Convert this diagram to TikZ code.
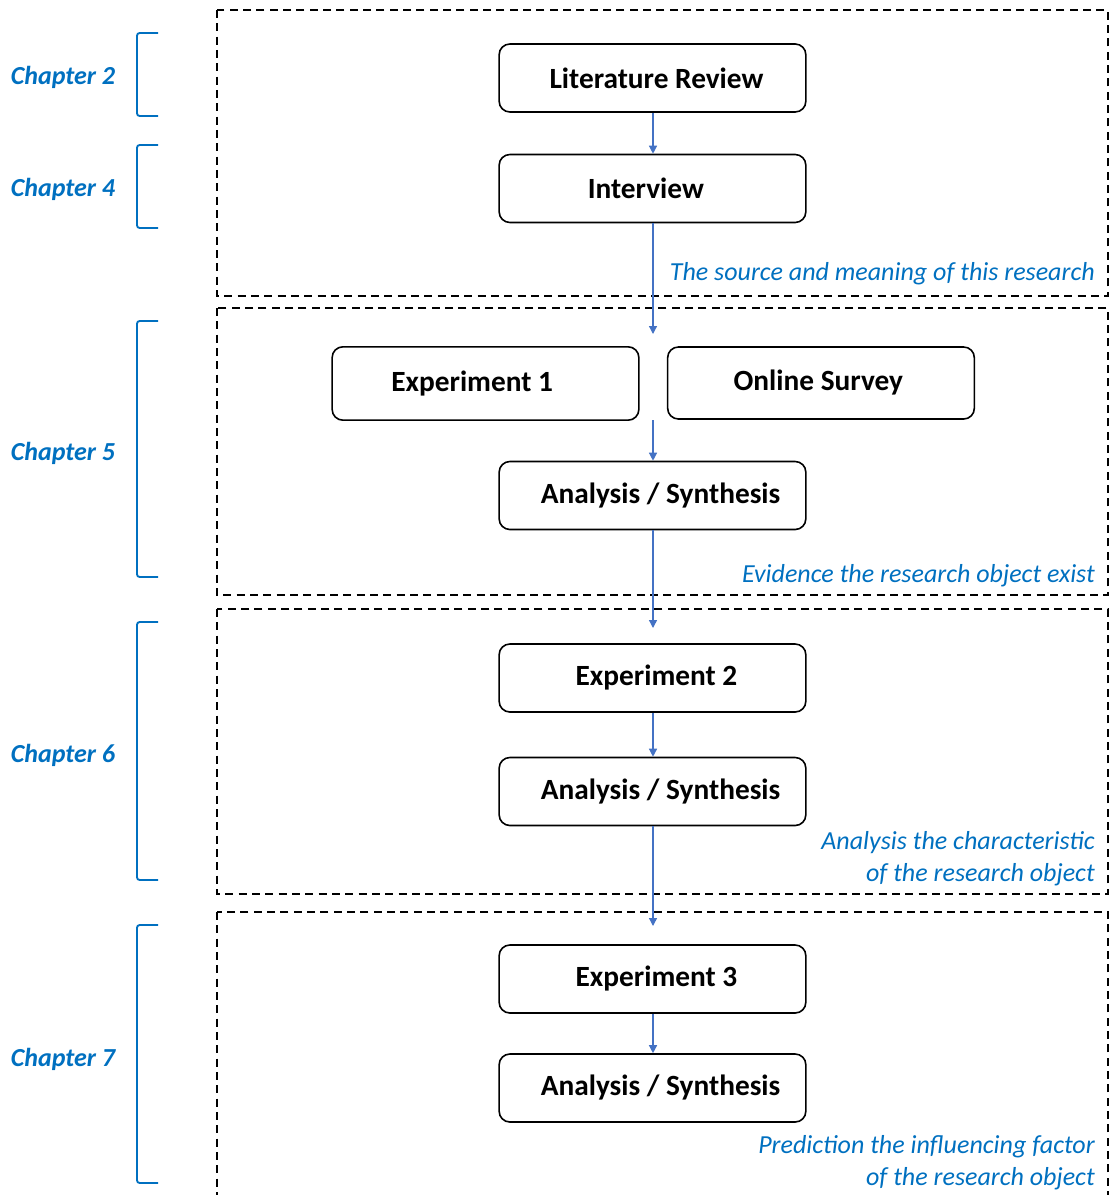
\documentclass[tikz,border=0pt]{standalone}
\usepackage{fontspec}
\setmainfont{Carlito}
\usetikzlibrary{arrows.meta}
\definecolor{txtblue}{HTML}{0070C0}
\definecolor{arrblue}{HTML}{4472C4}
\begin{document}
\begin{tikzpicture}[x=0.75pt,y=-0.75pt,
  stepbox/.style={draw=black,line width=1.2pt,rounded corners=8pt,minimum width=230pt,minimum height=51pt,font=\fontsize{22}{26}\selectfont\bfseries,inner sep=0pt},
  region/.style={draw=black,line width=1.3pt,dash pattern=on 6pt off 4pt},
  chap/.style={text=txtblue,font=\fontsize{19.5}{22}\selectfont\bfseries\itshape},
  note/.style={text=txtblue,font=\fontsize{19.5}{24}\selectfont\itshape,align=right,anchor=east,inner sep=0pt},
  brk/.style={draw=txtblue,line width=1.4pt,rounded corners=2pt},
  flow/.style={draw=arrblue,line width=1pt,-{Triangle[width=6pt,length=6pt]}}]
\useasboundingbox (0,0) rectangle (1110,1195);
% regions
\draw[region] (217,10) rectangle (1108,296);
\draw[region] (217,308) rectangle (1108,595);
\draw[region] (217,609) rectangle (1108,894);
\draw[region] (217,912) rectangle (1108,1210);
% brackets
\draw[brk] (158,33) -- (137,33) -- (137,116) -- (158,116);
\draw[brk] (158,145) -- (137,145) -- (137,228) -- (158,228);
\draw[brk] (158,321) -- (137,321) -- (137,577) -- (158,577);
\draw[brk] (158,622) -- (137,622) -- (137,880) -- (158,880);
\draw[brk] (158,925) -- (137,925) -- (137,1183) -- (158,1183);
% chapter labels
\node[chap] (c2) at (63,77) {Chapter 2};
\node[chap] (c4) at (63,189) {Chapter 4};
\node[chap] (c5) at (63,453) {Chapter 5};
\node[chap] (c6) at (63,755) {Chapter 6};
\node[chap] (c7) at (63,1059) {Chapter 7};
% steps
\node[stepbox] (lit) at (652.5,78) {\kern6pt Literature Review};
\node[stepbox] (int) at (652.5,188.5) {Interview\kern10pt};
\node[stepbox,minimum height=55pt] (e1) at (485.5,383.5) {Experiment 1\kern20pt};
\node[stepbox,minimum height=54pt] (os) at (821,383) {Online Survey\kern4pt};
\node[stepbox] (a1) at (652.5,495.5) {\kern12pt Analysis / Synthesis};
\node[stepbox] (e2) at (652.5,678) {\kern6pt Experiment 2};
\node[stepbox] (a2) at (652.5,791.5) {\kern12pt Analysis / Synthesis};
\node[stepbox] (e3) at (652.5,979) {\kern6pt Experiment 3};
\node[stepbox] (a3) at (652.5,1088) {\kern12pt Analysis / Synthesis};
% notes
\node[note] (n1) at (1095,274) {The source and meaning of this research};
\node[note] (n2) at (1095,576) {Evidence the research object exist};
\node[note] (n3) at (1095,859) {Analysis the characteristic\\of the research object};
\node[note] (n4) at (1095,1163) {Prediction the influencing factor\\of the research object};
% connectors
\coordinate (p1) at (653,334);
\coordinate (p2) at (653,420);
\coordinate (p3) at (653,628);
\coordinate (p4) at (653,926);
\draw[flow] (lit.south -| p1) -- (int.north -| p1);
\draw[flow] (int.south -| p1) -- (p1);
\draw[flow] (p2) -- (a1.north -| p2);
\draw[flow] (a1.south -| p3) -- (p3);
\draw[flow] (e2.south -| p3) -- (a2.north -| p3);
\draw[flow] (a2.south -| p4) -- (p4);
\draw[flow] (e3.south -| p4) -- (a3.north -| p4);
\end{tikzpicture}
\end{document}
